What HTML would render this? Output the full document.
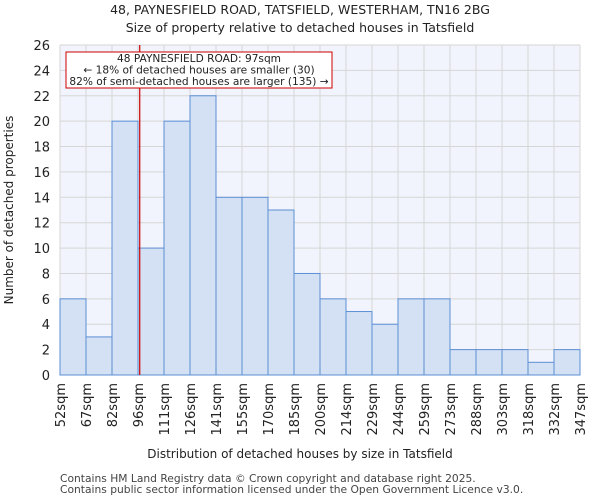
<!DOCTYPE html>
<html><head><meta charset="utf-8"><style>
body{margin:0;background:#fff;font-family:"DejaVu Sans","Liberation Sans",sans-serif}
</style></head><body>
<svg width="600" height="500" xmlns="http://www.w3.org/2000/svg" font-family="DejaVu Sans, Liberation Sans, sans-serif">
<text x="300" y="14" text-anchor="middle" font-size="12.5" fill="#222">48, PAYNESFIELD ROAD, TATSFIELD, WESTERHAM, TN16 2BG</text>
<text x="300" y="32" text-anchor="middle" font-size="12.5" fill="#222">Size of property relative to detached houses in Tatsfield</text>
<rect x="60" y="45" width="520" height="330" fill="#f1f4fc"/>
<g id="grid"></g>
<g id="bars"></g>
<g id="axes"></g>
<line id="marker" y1="45" y2="375" stroke="#cc0000" stroke-width="1.2"/>
<rect x="66" y="52" width="266" height="36" fill="#fff" stroke="#cc0000" stroke-width="1"/>
<text x="199" y="62" text-anchor="middle" font-size="10.6" fill="#222">48 PAYNESFIELD ROAD: 97sqm</text>
<text x="199" y="73.5" text-anchor="middle" font-size="10.6" fill="#222">← 18% of detached houses are smaller (30)</text>
<text x="199" y="85" text-anchor="middle" font-size="10.6" fill="#222">82% of semi-detached houses are larger (135) →</text>
<text x="300" y="458" text-anchor="middle" font-size="12" fill="#222">Distribution of detached houses by size in Tatsfield</text>
<text transform="translate(13,210) rotate(-90)" text-anchor="middle" font-size="12" fill="#222">Number of detached properties</text>
<text x="60" y="482" font-size="10.7" fill="#444">Contains HM Land Registry data © Crown copyright and database right 2025.</text>
<text x="60" y="493" font-size="10.7" fill="#444">Contains public sector information licensed under the Open Government Licence v3.0.</text>
</svg>
<script>
const binEdges=[52,67,82,96,111,126,141,155,170,185,200,214,229,244,259,273,288,303,318,332,347];
const counts=[6,3,20,10,20,22,14,14,13,8,6,5,4,6,6,2,2,2,1,2];
const yTicks=[0,2,4,6,8,10,12,14,16,18,20,22,24,26];
const propertySize=97;
const X0=60,X1=580,Y0=375,Y1=45,YMAX=26;
const NS="http://www.w3.org/2000/svg";
const nb=counts.length, bw=(X1-X0)/nb;
function xIdx(i){return X0+i*bw;}
function xVal(v){let i=0;while(i<nb-1&&v>binEdges[i+1])i++;return xIdx(i)+(v-binEdges[i])/(binEdges[i+1]-binEdges[i])*bw;}
function y(v){return Y0-v/YMAX*(Y0-Y1);}
function mk(t,a,p){const e=document.createElementNS(NS,t);for(const k in a)e.setAttribute(k,a[k]);p.appendChild(e);return e;}
const grid=document.getElementById('grid'),bars=document.getElementById('bars'),axes=document.getElementById('axes');
yTicks.forEach(t=>{
 const l=mk('line',{x1:X0,x2:X1,y1:y(t),y2:y(t),stroke:'#d6d6d6','stroke-width':1},grid);
 
 
 const tx=mk('text',{x:X0-10,y:y(t)+5,'text-anchor':'end','font-size':13,fill:'#222'},axes);
 tx.textContent=t;
 
 
});
binEdges.forEach((e,i)=>{
 const l=mk('line',{x1:xIdx(i),x2:xIdx(i),y1:Y1,y2:Y0,stroke:'#d6d6d6','stroke-width':1},grid);
 
 
 const px=xIdx(i);
 const tx=mk('text',{transform:`translate(${px+5},${Y0+8}) rotate(-90)`,'text-anchor':'end','font-size':13,fill:'#222'},axes);
 tx.textContent=e+'sqm';
 
 
});
counts.forEach((c,i)=>{
 const r=mk('rect',{x:xIdx(i),y:y(c),width:bw,height:Y0-y(c),fill:'#d4e0f3',stroke:'#5b8fd6','stroke-width':1},bars);
 
 
});
const m=document.getElementById('marker');
m.setAttribute('x1',xVal(propertySize));m.setAttribute('x2',xVal(propertySize));
</script>
</body></html>
